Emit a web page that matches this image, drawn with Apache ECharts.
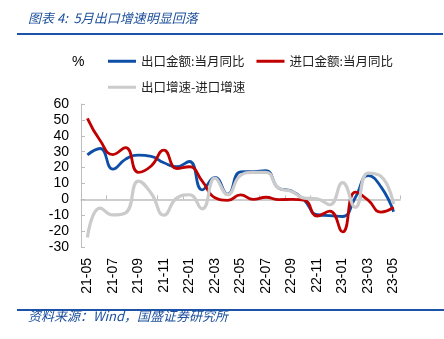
<!DOCTYPE html>
<html>
<head>
<meta charset="utf-8">
<script src="https://cdn.jsdelivr.net/npm/echarts@6/dist/echarts.min.js"></script>
<style>
html,body{margin:0;padding:0;background:#fff;}
#chart{width:444px;height:339px;}
</style>
</head>
<body>
<div id="chart"></div>
<script>
const categories = ['21-05','21-06','21-07','21-08','21-09','21-10','21-11','21-12',
  '22-01','22-02','22-03','22-04','22-05','22-06','22-07','22-08','22-09','22-10','22-11','22-12',
  '23-01','23-02','23-03','23-04','23-05'];
const exportYoY = [28, 32, 19, 25.3, 27.8, 27, 23, 20.5, 23.8, 6, 13.8, 3.2, 17.3, 17.5, 18, 7, 5.2, -0.5, -9.7, -10.2, -10.8, 1.2, 15, 8, -7.8];
const importYoY = [51, 37, 28.2, 32.5, 17, 21, 31, 19.4, 20.5, 11.5, 1, -0.6, 2.8, 0, 1.3, -0.2, 0, -0.5, -10.5, -7.4, -20.5, 4.5, -0.5, -8, -5];
const gapYoY = [-24, -5.5, -9.8, -8.5, 11.5, 3.8, -10, 0.8, 2.9, -6, 13.3, 3, 15, 17, 17, 7, 5, 0.8, 0.3, -3.4, 10.5, -5, 16.5, 14.5, -3];
const yTicks = {min: -30, max: 60, interval: 10};
const seriesNames = ['出口金额:当月同比', '进口金额:当月同比', '出口增速-进口增速'];

const BLUE_TXT = '#1c4f9c';
const chart = echarts.init(document.getElementById('chart'), null, {renderer: 'canvas'});
const cjk = '"Noto Sans CJK SC", sans-serif';
const num = '"Liberation Sans", Arial, sans-serif';

chart.setOption({
  animation: false,
  backgroundColor: '#fff',
  grid: {left: 81, right: 44, top: 104, bottom: 92, containLabel: false},
  legend: [
    {data: [seriesNames[0], seriesNames[1]], left: 108, top: 55, icon: 'rect', itemWidth: 28, itemHeight: 3,
     itemGap: 12, padding: 0, textStyle: {fontFamily: cjk, fontSize: 12.5, color: '#222'}},
    {data: [seriesNames[2]], left: 108, top: 81, icon: 'rect', itemWidth: 28, itemHeight: 3,
     padding: 0, textStyle: {fontFamily: cjk, fontSize: 12.5, color: '#222'}}
  ],
  xAxis: [
    {type: 'category', data: categories, boundaryGap: true, position: 'bottom',
     axisLine: {show: false, onZero: false}, axisTick: {show: false},
     axisLabel: {interval: 1, rotate: 90, margin: 11, fontFamily: num, fontSize: 14, color: '#000'}},
    {type: 'category', data: categories, boundaryGap: true, position: 'bottom',
     axisLine: {show: true, onZero: true, lineStyle: {color: '#bdbdbd', width: 1.5}},
     axisTick: {show: true, inside: true, length: 4, interval: 1, lineStyle: {color: '#bdbdbd', width: 1}},
     axisLabel: {show: false}}
  ],
  yAxis: {type: 'value', min: yTicks.min, max: yTicks.max, interval: yTicks.interval,
    axisLine: {show: true, onZero: false, lineStyle: {color: '#bdbdbd', width: 1}},
    axisTick: {show: true, inside: true, length: 4, lineStyle: {color: '#bdbdbd'}},
    splitLine: {show: false},
    axisLabel: {margin: 12, fontFamily: num, fontSize: 14, color: '#000'}},
  series: [
    {name: seriesNames[0], type: 'line', data: exportYoY, smooth: 0.5, symbol: 'none',
     lineStyle: {color: '#0d4ea6', width: 2.8}, itemStyle: {color: '#0d4ea6'}},
    {name: seriesNames[1], type: 'line', data: importYoY, smooth: 0.5, symbol: 'none',
     lineStyle: {color: '#c00000', width: 2.8}, itemStyle: {color: '#c00000'}},
    {name: seriesNames[2], type: 'line', data: gapYoY, smooth: 0.5, symbol: 'none',
     lineStyle: {color: '#cbcbcb', width: 3.2}, itemStyle: {color: '#cbcbcb'}}
  ],
  graphic: [
    {type: 'text', left: 28, top: 12, style: {text: '图表 4:  5月出口增速明显回落', fontFamily: cjk, fontSize: 13,
      fontStyle: 'italic', fill: BLUE_TXT}},
    {type: 'line', shape: {x1: 17, y1: 34, x2: 443, y2: 34}, style: {stroke: '#1c52a8', lineWidth: 2}},
    {type: 'text', left: 72, top: 55, style: {text: '%', fontFamily: num, fontSize: 14, fill: '#000'}},
    {type: 'line', shape: {x1: 17, y1: 310, x2: 444, y2: 310}, style: {stroke: '#1c52a8', lineWidth: 2}},
    {type: 'text', left: 28, top: 310, style: {text: '资料来源：Wind，国盛证券研究所', fontFamily: cjk, fontSize: 13,
      fontStyle: 'italic', fill: BLUE_TXT}}
  ]
});
</script>
</body>
</html>
